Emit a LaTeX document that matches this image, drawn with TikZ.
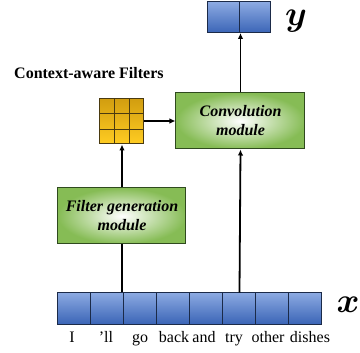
\documentclass[tikz,border=0pt]{standalone}
\usepackage{amsmath}
\usepackage{graphicx}
\usepackage{fontspec}
\setmainfont{Liberation Serif}
\usetikzlibrary{arrows.meta,calc}
\definecolor{bluetop}{HTML}{8CAAE2}
\definecolor{bluebot}{HTML}{3A64B6}
\definecolor{cellline}{HTML}{1B2A48}
\definecolor{greenout}{HTML}{86BC55}
\definecolor{greenline}{HTML}{2F4A1E}
\definecolor{goldtop}{HTML}{D29E10}
\definecolor{goldbot}{HTML}{FFCC22}
\definecolor{goldline}{HTML}{4A3A10}
\newcommand{\biglab}[1]{\scalebox{1.4}{\fontsize{24.88}{26}\selectfont$\boldsymbol{#1}$}}
\tikzset{
  cell/.style={draw=cellline, line width=1pt, top color=bluetop, bottom color=bluebot,
    minimum width=33pt, minimum height=32pt, inner sep=0pt, outer sep=0pt},
  module/.style={draw=greenline, line width=1pt, shading=radial, inner color=white, outer color=greenout,
    inner sep=0pt, align=center, font=\fontsize{16}{19}\selectfont\bfseries\itshape},
  conn/.style={line width=1.8pt, draw=black},
  arr/.style={conn, -{Latex[length=6pt,width=5.5pt]}},
  word/.style={anchor=base, font=\fontsize{16}{18}\selectfont, inner sep=0pt},
  varlab/.style={anchor=base, inner sep=0pt}
}
\begin{document}
\begin{tikzpicture}[x=1pt,y=-1pt]
\useasboundingbox (0,0) rectangle (360,353);
% input row
\foreach \i in {1,...,8} {
  \node[cell] (x\i) at ({58+33*(\i-1)+16.5},308.5) {};
}
% output row
\node[cell, minimum width=32pt, minimum height=31pt] (y1) at (224,17.5) {};
\node[cell, minimum width=31pt, minimum height=31pt] (y2) at (255.5,17.5) {};
% labels
\node[varlab] (xl) at (348,313) {\biglab{x}};
\node[varlab] (yl) at (296,26) {\biglab{y}};
% words
\node[word] (w1) at (72,343) {I};
\node[word] (w2) at (106,343) {’ll};
\node[word] (w3) at (140,343) {go};
\node[word] (w4) at (174,343) {back};
\node[word] (w5) at (204,343) {and};
\node[word] (w6) at (234,343) {try};
\node[word] (w7) at (268,343) {other};
\node[word] (w8) at (310,343) {dishes};
% modules
\node[module, minimum width=128pt, minimum height=56pt] (fg) at (122,216) {Filter generation\\module};
\node[module, minimum width=129pt, minimum height=56pt] (conv) at (240.5,121) {Convolution\\module};
% filters
\node[draw=goldline, line width=1pt, top color=goldtop, bottom color=goldbot,
  minimum width=44pt, minimum height=45pt, inner sep=0pt] (filt) at (122,121.5) {};
\foreach \k in {1,2} {
  \draw[goldline, line width=1pt] ($(filt.north west)!\k/3!(filt.north east)$) -- ($(filt.south west)!\k/3!(filt.south east)$);
  \draw[goldline, line width=1pt] ($(filt.north west)!\k/3!(filt.south west)$) -- ($(filt.north east)!\k/3!(filt.south east)$);
}
\node[anchor=base west, inner sep=0pt, font=\fontsize{16}{18}\selectfont\bfseries] (ctx) at (14,79) {Context-aware Filters};
% connectors
\coordinate (fgin) at (fg.south |- x2.north);
\draw[conn] (fgin) -- (fg.south);
\draw[arr] (fg.north) -- (filt.south);
\draw[arr] (filt.east |- conv.west) -- (conv.west);
\draw[arr] (x6.north) -- (conv.south);
\draw[arr] (conv.north) -- (conv.north |- y1.south);
\end{tikzpicture}
\end{document}
